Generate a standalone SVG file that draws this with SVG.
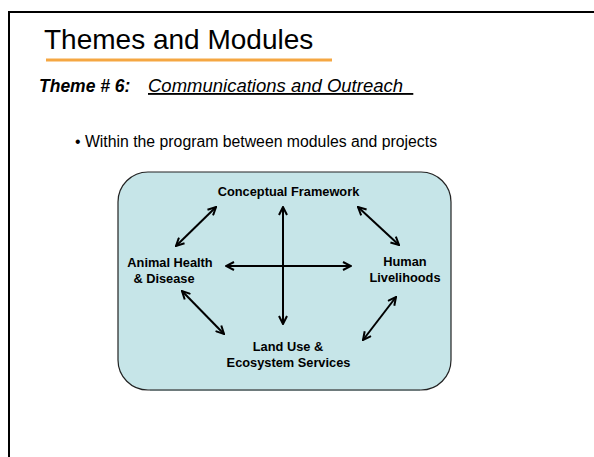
<svg xmlns="http://www.w3.org/2000/svg" width="594" height="457" viewBox="0 0 594 457">
<style>
text{font-family:"Liberation Sans",Arial,sans-serif;fill:#000}
.lbl{font-size:12.8px;font-weight:bold;text-anchor:middle}
.arr{stroke:#000;stroke-width:2;fill:none;marker-start:url(#h);marker-end:url(#h)}
</style>
<defs>
<marker id="h" viewBox="0 0 10 10" refX="9" refY="5" markerWidth="5" markerHeight="5" orient="auto-start-reverse" markerUnits="strokeWidth">
<path d="M1,1 L9,5 L1,9" fill="none" stroke="#000" stroke-width="2"/>
</marker>
</defs>
<rect width="594" height="457" fill="#fff"/>
<path d="M9,457 V12 H594" fill="none" stroke="#000" stroke-width="2"/>
<g id="title">
<text x="44" y="49" font-size="28">Themes and Modules</text>
<line x1="46" y1="60" x2="332" y2="60" stroke="#f5a742" stroke-width="3"/>
</g>
<g id="theme">
<text x="39" y="92" font-size="17.5" font-weight="bold" font-style="italic">Theme # 6:</text>
<text x="148" y="92" font-size="18.5" font-style="italic" text-decoration="underline" xml:space="preserve">Communications and Outreach  </text>
</g>
<g id="bullet">
<text x="75" y="147" font-size="15.8">• Within the program between modules and projects</text>
</g>
<g id="panel">
<rect x="118" y="172" width="333" height="218" rx="30" ry="30" fill="#c6e5e8" stroke="#222" stroke-width="1.2"/>
<path d="M150,390 H420" stroke="#6e7b7c" stroke-width="2"/>
</g>
<g id="connectors">
<line class="arr" x1="176" y1="246" x2="216" y2="207"/>
<line class="arr" x1="358" y1="207" x2="399" y2="245"/>
<line class="arr" x1="283" y1="207" x2="283" y2="324"/>
<line class="arr" x1="226" y1="266" x2="351" y2="266"/>
<line class="arr" x1="182" y1="291" x2="224" y2="334"/>
<line class="arr" x1="396" y1="297" x2="363" y2="340"/>
</g>
<g id="conceptual"><text class="lbl" x="288.5" y="196">Conceptual Framework</text></g>
<g id="animal">
<text class="lbl" x="170" y="267">Animal Health</text>
<text class="lbl" x="164" y="283">&amp; Disease</text>
</g>
<g id="human">
<text class="lbl" x="405" y="266">Human</text>
<text class="lbl" x="405" y="282">Livelihoods</text>
</g>
<g id="landuse">
<text class="lbl" x="288" y="351">Land Use &amp;</text>
<text class="lbl" x="288.5" y="367">Ecosystem Services</text>
</g>
</svg>
